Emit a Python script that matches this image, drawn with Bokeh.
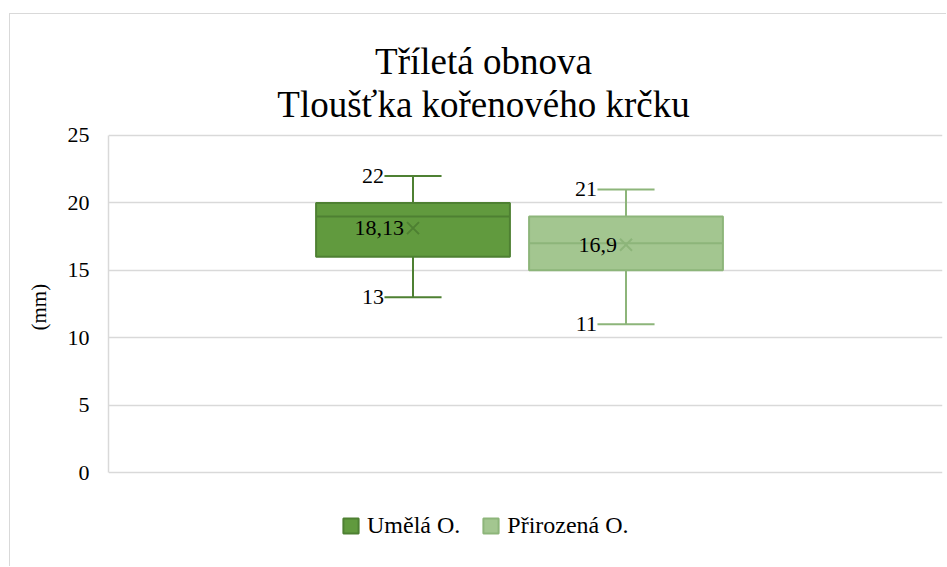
from bokeh.plotting import figure
from bokeh.models import Range1d, FixedTicker, Legend, LegendItem, ColumnDataSource, Label, Title
from bokeh.embed import file_html
from bokeh.resources import INLINE
from bokeh.core.properties import value

# ---- data ----
series = ["Umělá O.", "Přirozená O."]
mins = [13, 11]
q1 = [16, 15]
medians = [19, 17]
q3 = [20, 19]
maxs = [22, 21]
means = [18.13, 16.9]
mean_labels = ["18,13", "16,9"]
y_ticks = [0, 5, 10, 15, 20, 25]
title_lines = ["Tříletá obnova", "Tloušťka kořenového krčku"]
y_label = "(mm)"

# ---- style / layout ----
fills = ["#619a3e", "#a3c690"]
edges = ["#4e8032", "#8db57a"]
FONT = "Liberation Serif"
GRID = "#d9d9d9"
BOX_W = 0.91
CAP_W = 0.268
# the frame covers the whole canvas height (title and legend live inside it);
# the value axis itself is bounded to 0..25
Y_VIEW = (-7.047, 33.976)

p = figure(width=937, height=553, output_backend="svg", toolbar_location=None,
           x_range=Range1d(-0.4296, 3.4859), y_range=Range1d(*Y_VIEW),
           min_border_left=98, min_border_top=0, min_border_bottom=0,
           min_border_right=5, title=None)
p.styles = {"margin-left": "9px", "margin-top": "13px",
            "border-left": "1px solid #d9d9d9", "border-top": "1px solid #d9d9d9"}
p.outline_line_color = None
p.background_fill_color = "white"
p.border_fill_color = "white"

p.xaxis.visible = False
p.xgrid.visible = False
p.ygrid.ticker = FixedTicker(ticks=y_ticks)
p.ygrid.grid_line_color = GRID
p.ygrid.grid_line_width = 1.5

ax = p.yaxis[0]
ax.ticker = FixedTicker(ticks=y_ticks)
ax.bounds = (min(y_ticks), max(y_ticks))
ax.axis_line_color = GRID
ax.axis_line_width = 1.5
ax.major_tick_line_color = None
ax.minor_tick_line_color = None
ax.major_tick_out = 0
ax.major_tick_in = 0
ax.major_label_standoff = 19
ax.major_label_text_font = FONT
ax.major_label_text_font_size = "22px"
ax.major_label_text_color = "#000000"

# value-axis title, placed next to the axis (centred on the 0..25 span)
p.add_layout(Title(text=y_label, align="left", offset=237, standoff=26,
                   vertical_align="middle",
                   text_font=FONT, text_font_size="21px", text_font_style="normal",
                   text_color="#000000"), "left")

legend_items = []
for i, name in enumerate(series):
    x = i + 1
    src = ColumnDataSource(dict(x=[x], top=[q3[i]], bottom=[q1[i]]))
    p.segment(x0=[x, x], y0=[q3[i], q1[i]], x1=[x, x], y1=[maxs[i], mins[i]],
              line_color=edges[i], line_width=2)
    p.segment(x0=[x - CAP_W / 2, x - CAP_W / 2], y0=[maxs[i], mins[i]],
              x1=[x + CAP_W / 2, x + CAP_W / 2], y1=[maxs[i], mins[i]],
              line_color=edges[i], line_width=2)
    r = p.vbar(x="x", top="top", bottom="bottom", width=BOX_W, source=src,
               fill_color=fills[i], line_color=edges[i], line_width=2)
    p.segment(x0=[x - BOX_W / 2], y0=[medians[i]], x1=[x + BOX_W / 2], y1=[medians[i]],
              line_color=edges[i], line_width=2)
    p.scatter(x=[x], y=[means[i]], marker="x", size=17, line_color=edges[i], line_width=2)
    p.text(x=[x, x], y=[maxs[i], mins[i]], text=[str(maxs[i]), str(mins[i])],
           x_offset=-29, text_align="right", text_baseline="middle",
           text_font=value(FONT), text_font_size="22px", text_color="#000000")
    p.text(x=[x], y=[means[i]], text=[mean_labels[i]],
           x_offset=-9, text_align="right", text_baseline="middle",
           text_font=value(FONT), text_font_size="22px", text_color="#000000")
    legend_items.append(LegendItem(label=name, renderers=[r]))

legend = Legend(items=legend_items, orientation="horizontal", location=(233, 28),
                glyph_width=19, glyph_height=19, label_height=19, label_standoff=7,
                spacing=21, padding=0, margin=0, border_line_color=None,
                background_fill_alpha=0, label_text_font=FONT,
                label_text_font_size="24px", label_text_color="#000000")
p.add_layout(legend)

p.add_layout(Label(x=375, y=506, x_units="screen", y_units="screen", text=title_lines[0],
                   text_align="center", text_baseline="alphabetic",
                   text_font=FONT, text_font_size="37px", text_color="#000000"))
p.add_layout(Label(x=375, y=463, x_units="screen", y_units="screen", text=title_lines[1],
                   text_align="center", text_baseline="alphabetic",
                   text_font=FONT, text_font_size="37px", text_color="#000000"))

open("out.html", "w").write(file_html(p, INLINE))
